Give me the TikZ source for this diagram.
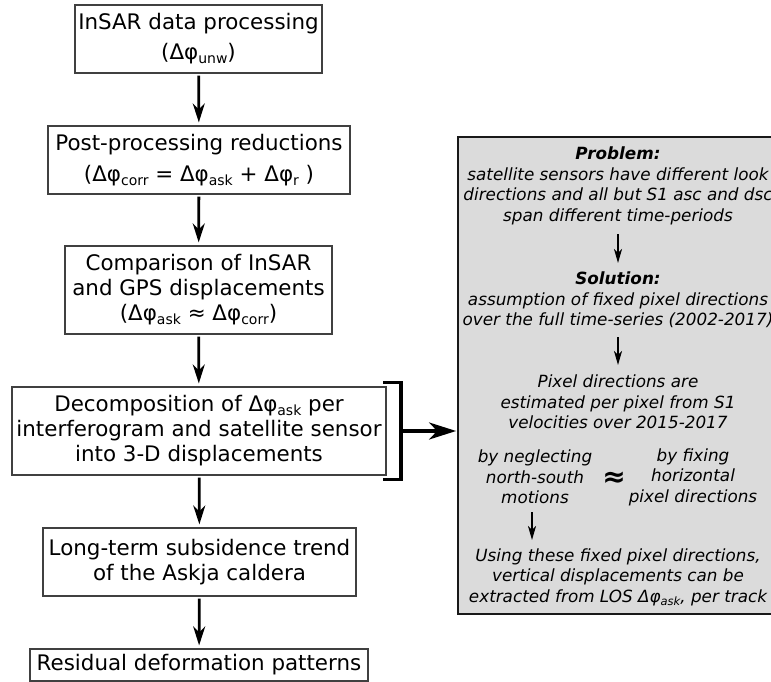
\documentclass[tikz,border=0pt]{standalone}
\usepackage{fontspec}
\setmainfont{DejaVu Sans}
\usetikzlibrary{arrows.meta}
\newcommand\lsub[1]{\raisebox{-4pt}{\fontsize{14}{14}\selectfont #1}}
\newcommand\rsub[1]{\raisebox{-3pt}{\fontsize{11.5}{11.5}\selectfont #1}}
\begin{document}
\begin{tikzpicture}[x=1pt,y=-1pt,
  flowbox/.style={draw=black!75, line width=1.2pt, inner sep=0pt, align=center,
    font=\fontsize{21.4}{25}\selectfont},
  flowarrow/.style={-{Stealth[length=19pt,width=12pt,inset=6pt]}, line width=2.8pt,
    shorten <=2pt, shorten >=3pt},
  bigarrow/.style={-{Stealth[length=27pt,width=17pt,inset=8pt]}, line width=3.2pt, shorten >=1pt},
  bracketline/.style={line width=3.6pt},
  panelbox/.style={draw=black!90, line width=1.8pt, fill=black!14, inner sep=0pt},
  ptext/.style={align=center, inner sep=0pt, font=\fontsize{16.8}{20.5}\selectfont\itshape},
  parrow/.style={-{Stealth[length=14pt,width=8pt,inset=4pt]}, line width=2pt}]
\clip (0,0) rectangle (771,682);
\fill[white] (0,0) rectangle (771,682);

% left flow
\node[flowbox, minimum width=247pt, minimum height=68pt] (b1) at (198.5,39)
  {InSAR data processing\\[5pt](Δφ\lsub{unw})};
\node[flowbox, minimum width=302pt, minimum height=68pt] (b2) at (199,160)
  {Post-processing reductions\\[6pt](Δφ\lsub{corr} = Δφ\lsub{ask} + Δφ\lsub{r} )};
\node[flowbox, minimum width=267pt, minimum height=88pt] (b3) at (198.5,290)
  {Comparison of InSAR\\and GPS displacements\\(Δφ\lsub{ask} ≈ Δφ\lsub{corr})};
\node[flowbox, minimum width=374pt, minimum height=88pt] (b4) at (199,431)
  {Decomposition of Δφ\lsub{ask} per\\interferogram and satellite sensor\\into 3-D displacements};
\node[flowbox, minimum width=313pt, minimum height=68pt] (b5) at (199.5,562)
  {Long-term subsidence trend\\of the Askja caldera};
\node[flowbox, minimum width=338pt, minimum height=32pt] (b6) at (199,665)
  {Residual deformation patterns};

\draw[flowarrow] (b1) -- (b2);
\draw[flowarrow] (b2) -- (b3);
\draw[flowarrow] (b3) -- (b4);
\draw[flowarrow] (b4) -- (b5);
\draw[flowarrow] (b5) -- (b6);

% right panel
\node[panelbox, minimum width=320pt, minimum height=477pt] (panel) at (618,375.5) {};

% bracket
\coordinate (bt) at (383,382.5);
\coordinate (bb) at (383,479.5);
\coordinate (bm) at (401,431);
\draw[bracketline] (bt) -| (bm) |- (bb);
\draw[bigarrow] (bm) -- (bm -| panel.west);

\node[ptext] (prob) at (618,186)
  {\bfseries Problem:\\satellite sensors have different look\\directions and all but S1 asc and dsc\\span different time-periods};
\node[ptext] (sol) at (618,300)
  {\bfseries Solution:\\assumption of fixed pixel directions\\over the full time-series (2002-2017)};
\node[ptext] (pix) at (618,402)
  {Pixel directions are\\estimated per pixel from S1\\velocities over 2015-2017};
\node[ptext] (neg) at (535,477)
  {by neglecting\\north-south\\motions};
\node[inner sep=0pt, font=\fontsize{28}{28}\selectfont\bfseries] (approx) at (614,479) {≈};
\node[ptext] (fix) at (693,477)
  {by fixing\\horizontal\\pixel directions};
\node[ptext] (use) at (618,577)
  {Using these fixed pixel directions,\\vertical displacements can be\\extracted from LOS Δφ\rsub{ask}, per track};

\coordinate (a1s) at (618,234);
\coordinate (a1e) at (618,263);
\draw[parrow] (a1s) -- (a1e);
\coordinate (a2s) at (618,337);
\coordinate (a2e) at (618,365);
\draw[parrow] (a2s) -- (a2e);
\coordinate (a3s) at (532,512);
\coordinate (a3e) at (532,540);
\draw[parrow] (a3s) -- (a3e);
\end{tikzpicture}
\end{document}
